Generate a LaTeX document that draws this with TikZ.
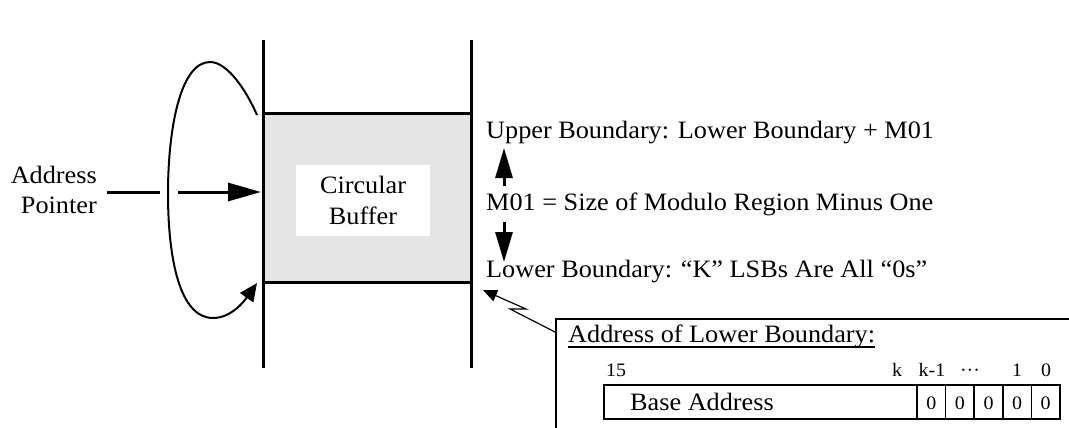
\documentclass[tikz,border=0pt]{standalone}
\usepackage{fontspec}
\setmainfont[FakeStretch=1.05]{Liberation Serif}
\usetikzlibrary{arrows.meta}
\definecolor{bufgray}{HTML}{E5E5E5}
\newcommand\bigf{\fontsize{25}{31}\selectfont}
\newcommand\smf{\fontsize{19}{22}\selectfont}
\begin{document}
\begin{tikzpicture}[x=1pt,y=-1pt,
  thickln/.style={line width=3pt},
  loopln/.style={line width=2pt},
  boxln/.style={line width=2pt},
  thinln/.style={line width=1.2pt},
  txt/.style={inner sep=0pt,anchor=base west,font=\bigf},
  txtr/.style={inner sep=0pt,anchor=base east,font=\bigf},
  bit/.style={inner sep=0pt,anchor=base,font=\smf},
  bigtip/.style={-{Triangle[length=33pt,width=18pt]}},
  midtip/.style={-{Triangle[length=30pt,width=17pt]}},
  looptip/.style={-{Triangle[length=18pt,width=16pt]}},
  smalltip/.style={{Triangle[length=14pt,width=12pt]}-}]
\useasboundingbox (0,0) rectangle (1069,428);
\fill[white] (0,0) rectangle (1069,428);

% buffer region
\node[fill=bufgray,minimum width=208pt,minimum height=168pt,inner sep=0pt] (buf) at (367,198) {};
\node[fill=white,minimum width=134pt,minimum height=71pt,inner sep=0pt,align=center,font=\bigf] (cb) at (363,200.5) {Circular\\Buffer};

% memory lines
\coordinate (lt) at (263,40);
\coordinate (lb) at (263,368);
\coordinate (rt) at (471,40);
\coordinate (rb) at (471,368);
\draw[thickln] (lt) -- (lb);
\draw[thickln] (rt) -- (rb);
\draw[thickln] (buf.north west) -- (buf.north east);
\draw[thickln] (buf.south west) -- (buf.south east);

% address pointer
\node[txtr] (addr1) at (97,183) {Address};
\node[txtr] (addr2) at (97,213) {Pointer};
\coordinate (p0) at (107,192);
\coordinate (p1) at (160,192);
\coordinate (p2) at (178,192);
\coordinate (p3) at (261,192);
\draw[thickln] (p0) -- (p1);
\draw[thickln,bigtip] (p2) -- (p3);

% wrap-around loop
\coordinate (ls) at (257,115);
\coordinate (le) at (257,283);
\draw[loopln,looptip] (ls) .. controls (247,92) and (228,62) .. (210,62)
  .. controls (180,62) and (168,130) .. (168,193)
  .. controls (168,260) and (180,318) .. (213,318)
  .. controls (232,318) and (245,300) .. (le);

% right labels
\node[txt] (ub) at (486,139) {Upper Boundary: Lower Boundary + M01};
\node[txt] (mo) at (486,210) {M01 = Size of Modulo Region Minus One};
\node[txt] (lbd) at (486,277) {Lower Boundary: “K” LSBs Are All “0s”};
\coordinate (ua0) at (504,186);
\coordinate (ua1) at (504,148);
\coordinate (da0) at (504,222);
\coordinate (da1) at (504,262);
\draw[thickln,midtip] (ua0) -- (ua1);
\draw[thickln,midtip] (da0) -- (da1);

% leader to address box
\coordinate (q0) at (483,290);
\coordinate (q1) at (526,309);
\coordinate (q2) at (510,309);
\coordinate (q3) at (557,333);
\draw[thinln,smalltip] (q0) -- (q1) -- (q2) -- (q3);

% address box
\coordinate (ob1) at (556,430);
\coordinate (ob2) at (556,319);
\coordinate (ob3) at (1071,319);
\draw[boxln] (ob1) -- (ob2) -- (ob3);
\node[txt] (hdr) at (568,342) {Address of Lower Boundary:};
\draw[line width=1.5pt] ([yshift=-5pt]hdr.base west) -- ([yshift=-5pt]hdr.base east);

\node[bit,anchor=base west] (b15) at (606,376) {15};
\node[bit] (bk) at (897,376) {k};
\node[bit] (bk1) at (932,376) {k-1};
\node[bit] (bdots) at (970,376) {···};
\node[bit] (b1) at (1017,376) {1};
\node[bit] (b0) at (1046,376) {0};

\draw[boxln] (604,385) rectangle (1060,419);
\node[txt] (base) at (630,410) {Base Address};
\foreach \x in {917,945.6,974.2,1002.8,1031.4}{
  \draw[line width=1.5pt] (\x,385) -- (\x,419);
}
\foreach \c/\n in {931.3/c1,959.9/c2,988.5/c3,1017.1/c4,1045.7/c5}{
  \node[bit] (\n) at (\c,409) {0};
}
\end{tikzpicture}
\end{document}
